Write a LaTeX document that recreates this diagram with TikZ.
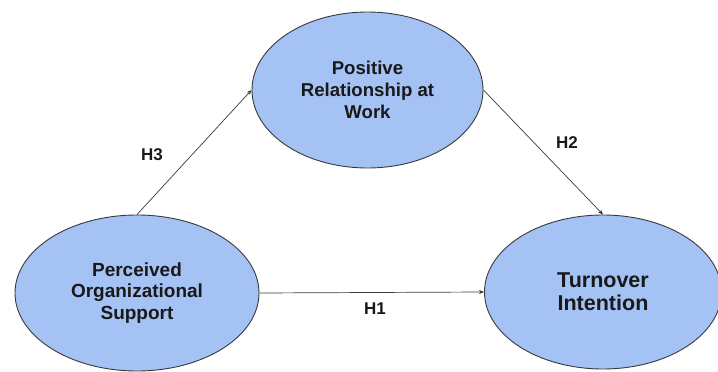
\documentclass[tikz,border=0pt]{standalone}
\usepackage{fontspec}
\setmainfont{Liberation Sans}
\usetikzlibrary{shapes.geometric,arrows.meta}
\definecolor{construct}{HTML}{A4C2F4}
\definecolor{edgegray}{HTML}{3A3A3A}
\begin{document}
\begin{tikzpicture}[x=1pt,y=-1pt,
  construct/.style={ellipse,draw=edgegray,line width=0.9pt,fill=construct,
    inner sep=0pt,align=center,font=\bfseries,text=black!90},
  path/.style={draw=edgegray,line width=0.7pt,-{Stealth[length=5pt,width=4pt]}},
  hyp/.style={font=\bfseries\fontsize{17}{20}\selectfont,text=black!90}]
  \useasboundingbox (0,0) rectangle (718,372);
  \clip (0,0) rectangle (718,372);
  \node[construct,minimum width=231pt,minimum height=156pt,
        font=\bfseries\fontsize{18.6}{22}\selectfont] (T) at (367.5,90)
        {Positive\\Relationship at\\Work};
  \node[construct,minimum width=244pt,minimum height=156pt,
        font=\bfseries\fontsize{19}{21.5}\selectfont] (L) at (137,293)
        {Perceived\\Organizational\\Support};
  \node[construct,minimum width=237pt,minimum height=154pt,
        font=\bfseries\fontsize{21.5}{23}\selectfont] (R) at (603,292)
        {Turnover\\Intention};
  \draw[path] (L.north) -- (T.west);
  \draw[path] (T.east) -- (R.north);
  \draw[path] (L.east) -- (R.west);
  \node[hyp] (h3) at (152,155) {H3};
  \node[hyp] (h2) at (567,143) {H2};
  \node[hyp] (h1) at (375,309) {H1};
\end{tikzpicture}
\end{document}
